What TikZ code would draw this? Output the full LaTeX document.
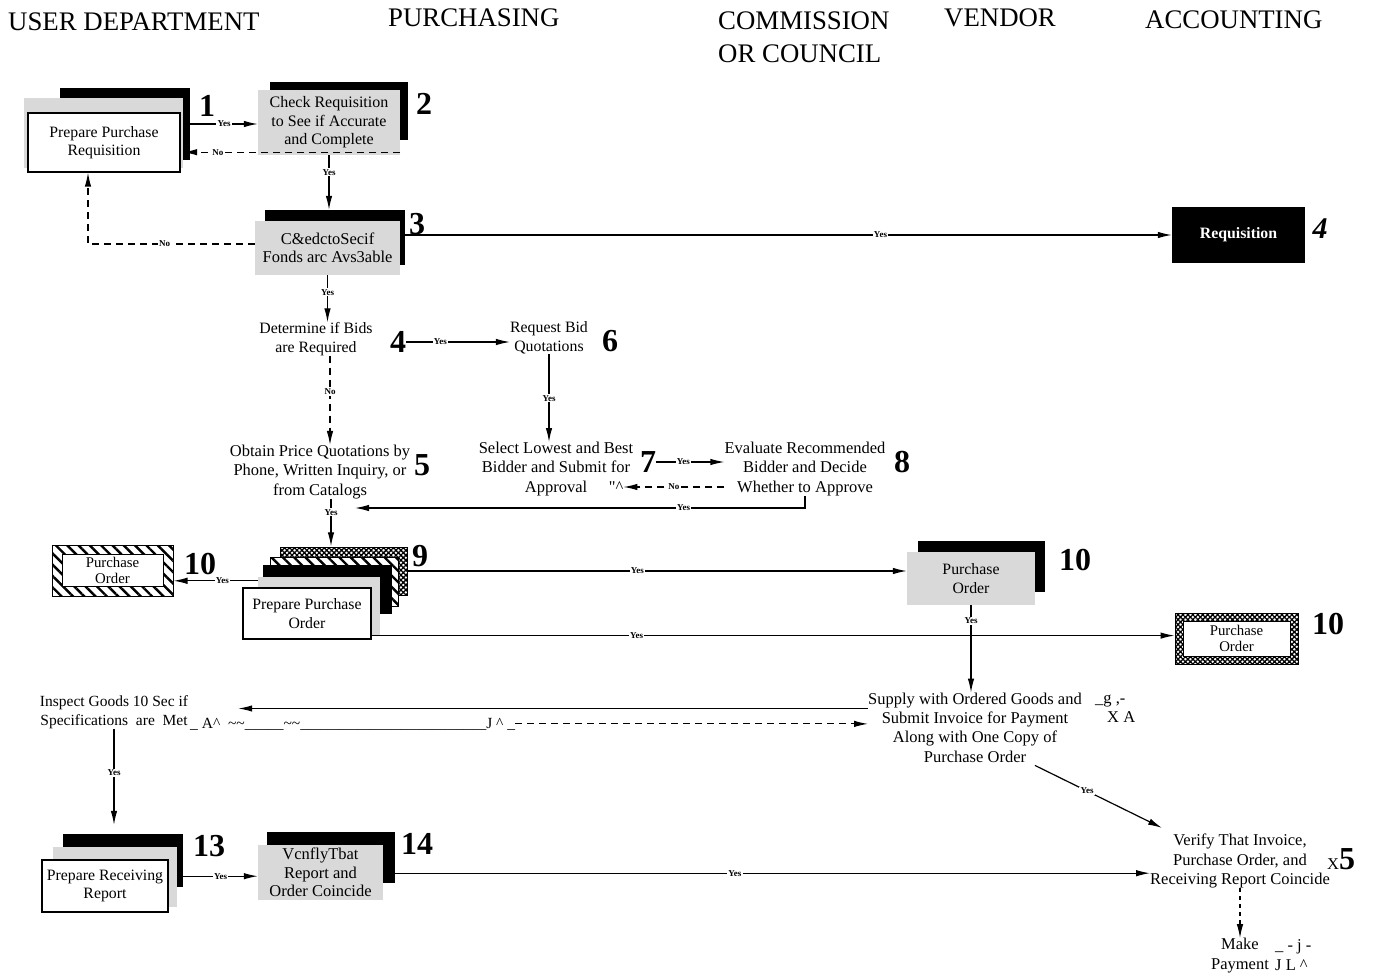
\documentclass[tikz,border=0pt]{standalone}
\usepackage{fontspec}
\setmainfont{Liberation Serif}
\usetikzlibrary{arrows.meta,patterns.meta,calc}
\newcommand\boxfont{\fontsize{15.8}{18.5}\selectfont}
\newcommand\smallboxfont{\fontsize{14.8}{16.5}\selectfont}
\newcommand\ocrfont{\fontsize{16.5}{18.5}\selectfont}
\newcommand\txtfont{\fontsize{16.5}{19.3}\selectfont}
\newcommand\headfont{\fontsize{26.8}{33}\selectfont}
\newcommand\numfont{\fontsize{32}{32}\selectfont\bfseries}
\tikzset{arr/.style={-{Latex[length=14pt,width=6.5pt]},line width=1.2pt},dashline/.style={dash pattern=on 7pt off 5pt},lab/.style={fill=white,inner sep=1.2pt,font=\fontsize{9}{9}\selectfont\bfseries},sz/.style 2 args={minimum width=#1pt,minimum height=#2pt,inner sep=0pt},head/.style={font=\headfont,inner sep=0pt,anchor=west},txt/.style={align=center,font=\txtfont,inner sep=0pt},num/.style={font=\numfont,inner sep=0pt},plainbox/.style={draw=black,line width=1.2pt,fill=white,align=center,font=\boxfont},greybox/.style={fill=gray!30,align=center,font=\boxfont},blackbar/.style={fill=black},hatchframe/.style={draw,line width=1pt,preaction={fill=white},pattern={Lines[angle=-45,distance=8pt,line width=2.4pt]}},dotframe/.style={draw,line width=1pt,preaction={fill=white},pattern={Hatch[angle=45,distance=3.5pt,line width=1.3pt]}}}

\begin{document}
\begin{tikzpicture}[x=1pt,y=-1pt]
\fill[white] (0,0) rectangle (1376,976);
\useasboundingbox (0,0) rectangle (1376,976);

%headings
\node[head] (hu) at (8,22) {USER DEPARTMENT};
\node[head] (hp) at (388,18) {PURCHASING};
\node[head,align=left] (hc) at (718,37) {COMMISSION\\OR COUNCIL};
\node[head] (hv) at (944,18) {VENDOR};
\node[head] (ha) at (1145,20) {ACCOUNTING};

%requisition
\node[sz={130}{72},blackbar] (p1k) at (125,124) {};
\node[sz={159}{70},greybox] (p1g) at (103.5,133) {};
\node[sz={152}{59},plainbox] (p1) at (104,142.5) {Prepare Purchase\\Requisition};
\node[num] (n1) at (207,106) {1};

\node[sz={138}{58},blackbar] (p2k) at (339,111) {};
\node[sz={142}{65},greybox,font=\fontsize{16}{18.5}\selectfont] (p2) at (329,122.5) {Check Requisition\\to See if Accurate\\and Complete};
\node[num] (n2) at (424,104) {2};

\node[sz={140}{55},blackbar] (p3k) at (335,237.5) {};
\node[sz={145}{54},greybox,font=\ocrfont] (p3) at (327.5,248) {C\&edctoSecif\\Fonds arc Avs3able};
\node[num] (n3) at (417,224) {3};

\node[sz={133}{56},fill=black,text=white,font=\boxfont\bfseries] (req) at (1238.5,235) {Requisition};
\node[font=\fontsize{30}{30}\selectfont\bfseries\itshape,inner sep=0pt] (n4a) at (1320,229) {4};

%bids
\node[txt,font=\boxfont] (d4) at (316,339) {Determine if Bids\\are Required};
\node[num] (n4b) at (398,342) {4};
\node[txt,font=\boxfont] (r6) at (549,338) {Request Bid\\Quotations};
\node[num] (n6) at (610,341) {6};
\node[txt] (o5) at (320,472) {Obtain Price Quotations by\\Phone, Written Inquiry, or\\from Catalogs};
\node[num] (n5) at (422,465) {5};
\node[txt] (s7) at (556,469) {Select Lowest and Best\\Bidder and Submit for\\Approval};
\node[num] (n7) at (648,462) {7};
\node[txt] (e8) at (805,469) {Evaluate Recommended\\Bidder and Decide\\Whether to Approve};
\node[num] (n8) at (902,462) {8};
\node[txt] (q7) at (616,487) {\textquotedbl\textasciicircum};

%purchase order
\node[sz={127}{48},dotframe] (p9d) at (343.5,571) {};
\node[sz={128}{49},hatchframe] (p9h) at (334,581.5) {};
\node[sz={129}{49},blackbar] (p9k) at (327.5,589.5) {};
\node[sz={122}{59},greybox] (p9g) at (319,606.5) {};
\node[sz={128}{51},plainbox] (p9) at (307,613.5) {Prepare Purchase\\Order};
\node[num] (n9) at (420,556) {9};

\node[sz={121}{51},hatchframe] (po1) at (112.5,570.5) {};
\node[sz={101}{32},plainbox,line width=0.8pt,font=\smallboxfont] (po1t) at (112.5,570.5) {Purchase\\Order};
\node[num] (n10a) at (200,564) {10};

\node[sz={127}{51},blackbar] (po2k) at (981.5,566.5) {};
\node[sz={128}{53},greybox] (po2) at (971,578.5) {Purchase\\Order};
\node[num] (n10b) at (1075,560) {10};

\node[sz={123}{51},dotframe] (po3) at (1236.5,638.5) {};
\node[sz={107}{35},plainbox,line width=0.8pt,font=\smallboxfont] (po3t) at (1236.5,638.5) {Purchase\\Order};
\node[num] (n10c) at (1328,624) {10};

%goods
\node[txt,font=\fontsize{15.5}{19}\selectfont] (in12) at (114,712) {Inspect Goods 10 Sec if\\Specifications\ \ are\ \ Met};
\node[txt,anchor=base west,font=\fontsize{15.5}{19}\selectfont] (g12) at (190,728) {\_\ A\textasciicircum\ \ \textasciitilde\textasciitilde\_\_\_\_\_\textasciitilde\textasciitilde\_\_\_\_\_\_\_\_\_\_\_\_\_\_\_\_\_\_\_\_\_\_\_\_J\ \textasciicircum\ \_};
\node[txt] (sup) at (975,727.5) {Supply with Ordered Goods and\\Submit Invoice for Payment\\Along with One Copy of\\Purchase Order};
\node[txt,anchor=west,align=left] (gsup) at (1095,709) {\_g\ ,-\\\hspace{12pt}X A};

\node[sz={120}{53},blackbar] (p13k) at (123,860.5) {};
\node[sz={124}{60},greybox] (p13g) at (115,877) {};
\node[sz={126}{52},plainbox] (p13) at (105,886) {Prepare Receiving\\Report};
\node[num] (n13) at (209,846) {13};

\node[sz={128}{51},blackbar] (p14k) at (331,857.5) {};
\node[sz={125}{55},greybox,font=\ocrfont] (p14) at (320.5,872.5) {VcnflyTbat\\Report and\\Order Coincide};
\node[num] (n14) at (417,844) {14};

%payment
\node[txt] (ver) at (1240,861) {Verify That Invoice,\\Purchase Order, and\\Receiving Report Coincide};
\node[txt,anchor=west] (nver) at (1327,859) {X{\numfont 5}};
\node[txt] (pay) at (1240,955.5) {Make\\Payment};
\node[txt,anchor=west,align=left] (gpay) at (1275,955) {\_\ -\ j\ -\\J L \textasciicircum};

%connectors
\coordinate (c1) at ($(p1.south)+(-16,0)$);
\coordinate (c2) at ($(p2.south east)+(0,-3)$);
\coordinate (c3) at ($(p3.west)+(0,-4)$);
\coordinate (c4) at ($(d4.south)+(14,0)$);
\coordinate (c5) at ($(o5.south)+(11,0)$);
\coordinate (c5y) at ($(c5)+(24,9)$);
\coordinate (c8) at ($(e8.west)+(0,18)$);
\coordinate (c9a) at ($(p9g.north west)+(0,4)$);
\coordinate (c9b) at ($(p9.south east)+(0,-4)$);
\coordinate (c12a) at ($(sup.west)+(0,-19)$);
\coordinate (t12) at ($(in12.east)+(50,-4)$);
\coordinate (c13) at ($(p13k.south east)+(0,-11)$);
\coordinate (c14) at ($(p14k.south east)+(0,-10)$);
\coordinate (c15a) at ($(sup.south)+(60,3)$);
\coordinate (c15b) at ($(ver.north west)+(12,-6)$);

\draw[arr] (p1k.east) -- node[lab]{Yes} (p1k.east -| p2.west);
\draw[arr,dashline] (c2) -- node[lab,pos=0.84]{No} (c2 -| p1g.east);
\draw[arr] (p2.south) -- node[lab,pos=0.31]{Yes} (p2.south |- p3k.north);
\draw[arr,dashline] (c3) -| node[lab,pos=0.27]{No} (c1);
\draw[arr] (req.west -| p3k.east) -- node[lab,pos=0.62]{Yes} (req.west);
\draw[arr] (p3.south) -- node[lab,pos=0.36]{Yes} (p3.south |- d4.north);
\draw[arr] (n4b.east) -- node[lab,pos=0.33]{Yes} (n4b.east -| r6.west);
\draw[arr,dashline] (c4) -- node[lab,pos=0.4]{No} (c4 |- o5.north);
\draw[arr] (r6.south) -- node[lab]{Yes} (r6.south |- s7.north);
\draw[arr] (n7.east) -- node[lab,pos=0.4]{Yes} (n7.east -| e8.west);
\draw[arr,dashline] (c8) -- node[lab]{No} (c8 -| q7.east);
\draw[arr] (e8.south) |- node[lab,pos=0.635]{Yes} (c5y);
\draw[arr] (c5) -- node[lab,pos=0.28]{Yes} (c5 |- p9d.north);
\draw[arr] (c9a) -- node[lab,pos=0.42]{Yes} (c9a -| po1.east);
\draw[arr] (p9d.east) -- node[lab,pos=0.46]{Yes} (p9d.east -| po2.west);
\draw[arr] (c9b) -- node[lab,pos=0.33]{Yes} (c9b -| po3.west);
\draw[arr] (po2.south) -- node[lab,pos=0.18]{Yes} (po2.south |- sup.north);
\draw[arr] (c12a) -- (c12a -| t12);
\draw[arr,dashline] (g12.east) -- (g12.east -| sup.west);
\draw[arr,shorten >=9pt] (in12.south) -- node[lab,pos=0.42]{Yes} (in12.south |- p13k.north);
\draw[arr] (c13) -- node[lab]{Yes} (c13 -| p14.west);
\draw[arr] (c14) -- node[lab,pos=0.45]{Yes} (c14 -| ver.west);
\draw[arr] (c15a) -- node[lab,pos=0.41]{Yes} (c15b);
\draw[arr,dash pattern=on 4pt off 4pt] (ver.south) -- (pay.north);
\end{tikzpicture}
\end{document}
